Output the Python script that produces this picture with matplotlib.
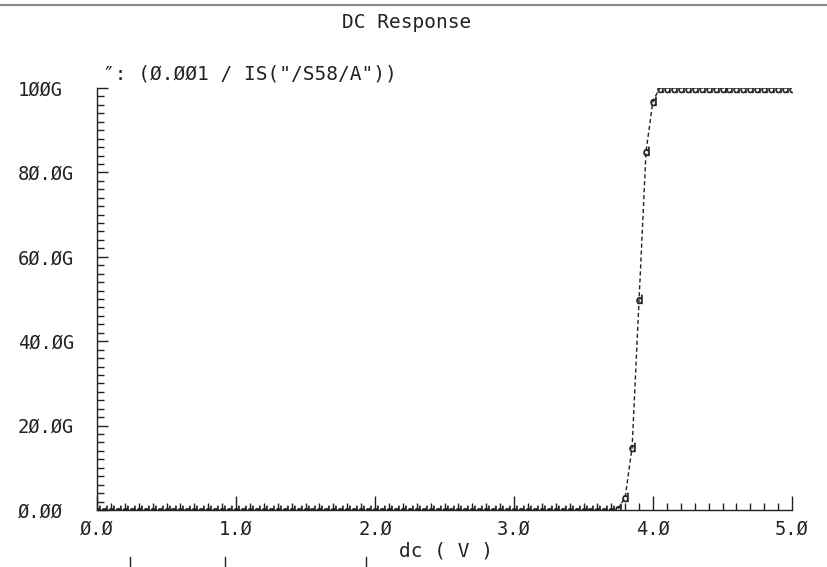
import numpy as np
import matplotlib.pyplot as plt
from matplotlib.ticker import MultipleLocator, FuncFormatter

plt.rcParams['font.family'] = ['DejaVu Sans Mono', 'DejaVu Sans']

# sweep of dc voltage and the resulting 0.001/IS value (in ohms)
dc_flat_lo = [round(0.05 * i, 2) for i in range(0, 76)]      # 0.00 .. 3.75
res_flat_lo = [0.0] * 75 + [0.4e9]
dc_rise = [3.80, 3.85, 3.90, 3.95, 4.00]
res_rise = [3.0e9, 15.0e9, 50.0e9, 85.0e9, 97.0e9]
dc_flat_hi = [round(4.05 + 0.05 * i, 2) for i in range(0, 20)]  # 4.05 .. 5.00
res_flat_hi = [100.0e9] * 20

dc = dc_flat_lo + dc_rise + dc_flat_hi
res = res_flat_lo + res_rise + res_flat_hi

title = 'DC Response'
legend = '\u2033: (\u00d8.\u00d8\u00d81 / IS("/S58/A"))'
xlabel = 'dc ( V )'

ink = '#222222'

fig = plt.figure(figsize=(8.27, 5.67), dpi=100)
ax = fig.add_axes([97 / 827, 1 - 510 / 567, (792 - 97) / 827, (510 - 88) / 567])

ax.plot(dc, res, color=ink, lw=1.0, ls=(0, (3, 2)),
        marker=r'$\mathsf{d}$', ms=6.5, mew=0.5, mfc=ink, mec=ink)

ax.set_xlim(0, 5)
ax.set_ylim(0, 100e9)

for s in ['top', 'right']:
    ax.spines[s].set_visible(False)
for s in ['left', 'bottom']:
    ax.spines[s].set_color(ink)
    ax.spines[s].set_linewidth(1.0)

ax.xaxis.set_major_locator(MultipleLocator(1.0))
ax.xaxis.set_minor_locator(MultipleLocator(0.1))
ax.yaxis.set_major_locator(MultipleLocator(20e9))
ax.yaxis.set_minor_locator(MultipleLocator(2e9))


def slashed(s):
    return s.replace('0', '\u00d8')


def xfmt(v, pos):
    return slashed('%.1f' % v)


def yfmt(v, pos):
    if v == 0:
        return slashed('0.00')
    if v >= 100e9:
        return slashed('%dG' % round(v / 1e9))
    return slashed('%.1fG' % (v / 1e9))


ax.xaxis.set_major_formatter(FuncFormatter(xfmt))
ax.yaxis.set_major_formatter(FuncFormatter(yfmt))

ax.tick_params(axis='x', which='major', direction='in', length=10, width=1,
               color=ink, labelsize=13.5, labelcolor=ink, pad=7)
ax.tick_params(axis='x', which='minor', direction='in', length=5, width=1, color=ink)
ax.tick_params(axis='y', which='major', direction='in', length=8, width=1,
               color=ink, labelsize=13.5, labelcolor=ink, pad=57)
ax.tick_params(axis='y', which='minor', direction='in', length=5, width=1, color=ink)
for lab in ax.get_yticklabels():
    lab.set_horizontalalignment('left')
    lab.set_verticalalignment('center_baseline')

fig.text(407 / 827, 1 - 23 / 567, title, ha='center', va='center',
         fontsize=14, color=ink)
fig.text(103 / 827, 1 - 74 / 567, legend, ha='left', va='center',
         fontsize=14, color=ink)
fig.text(446 / 827, 1 - 551 / 567, xlabel, ha='center', va='center',
         fontsize=14, color=ink)

# top border and cut-off marks of the next plot
fig.add_artist(plt.Line2D([0, 1], [1 - 5 / 567, 1 - 5 / 567],
                          transform=fig.transFigure, color='#888888', lw=1.5))
for px in [130, 225, 366]:
    fig.add_artist(plt.Line2D([px / 827, px / 827], [0, 10 / 567],
                              transform=fig.transFigure, color=ink, lw=1))

fig.savefig('out.png', dpi=100)
